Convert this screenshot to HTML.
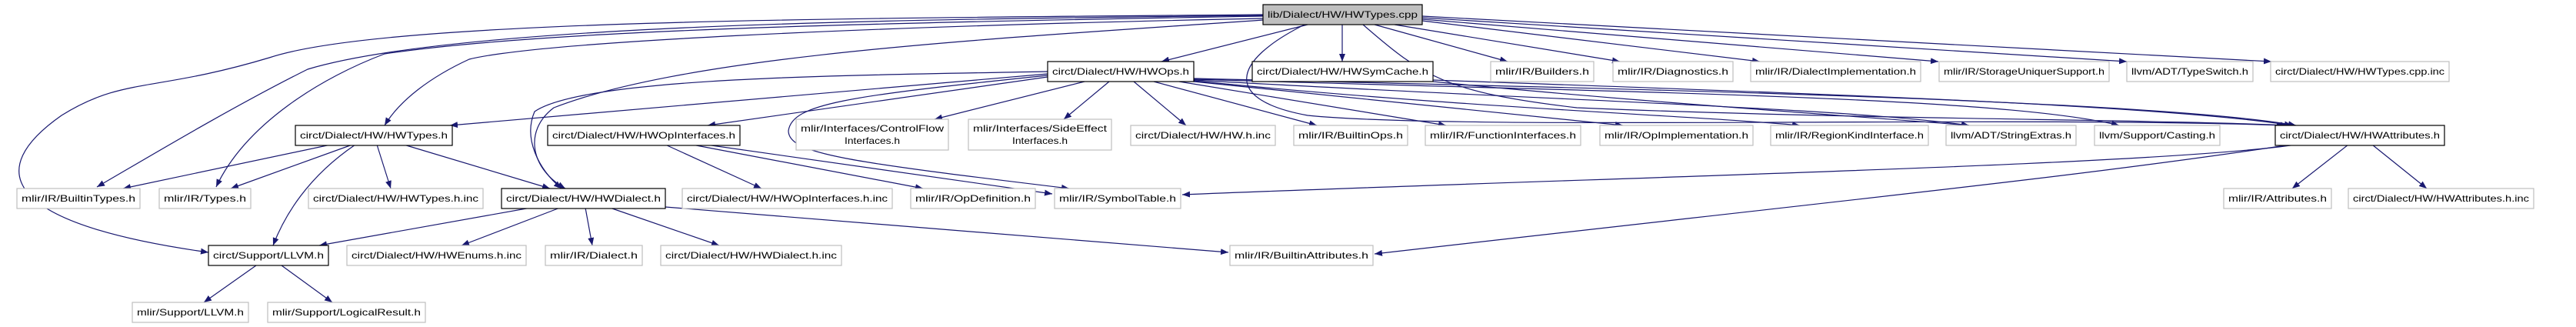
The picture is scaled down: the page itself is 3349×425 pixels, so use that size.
<!DOCTYPE html>
<html><head><meta charset="utf-8"><style>
html,body{margin:0;padding:0;background:#fff;}
svg{display:block}
text{font-family:"Liberation Sans",sans-serif;font-size:12px;fill:#000}
.n{fill:#fff;stroke:#bfbfbf;stroke-width:1.2}
.b{fill:#fff;stroke:#000;stroke-width:1.2}
.e{fill:none;stroke:#191970;stroke-width:1.2}
</style></head><body>
<svg width="3349" height="425" viewBox="0 0 3349 425" xmlns="http://www.w3.org/2000/svg">
<defs><marker id="a" viewBox="0 0 10 8" refX="10" refY="4" markerWidth="10" markerHeight="8" markerUnits="userSpaceOnUse" orient="auto"><path d="M0,0 L10,4 L0,8 z" fill="#191970"/></marker></defs>
<g class="e" marker-end="url(#a)">
<path d="M1700,32 L1510,80"/>
<path d="M1745,32 L1745,80"/>
<path d="M1787,32 L1960,80"/>
<path d="M1813,32 L2106,80"/>
<path d="M1849,27 L2288,80"/>
<path d="M1849,25 L2520,80"/>
<path d="M1849,23 L2765,80"/>
<path d="M1849,21 L2953,80"/>
<path d="M1772,32 C1850,100 1880,120 2050,140 C2400,155 2800,155 2975,163"/>
<path d="M1696,32 C1600,80 1590,130 1700,150 C1900,170 2600,150 2970,163"/>
<path d="M1642,24 C1100,35 700,55 610,77 C560,100 520,130 500,163"/>
<path d="M1642,21 C1100,30 700,40 500,70 C420,100 320,160 281,243"/>
<path d="M1642,20 C1200,25 600,30 400,90 C300,140 200,200 126,243"/>
<path d="M1642,19 C1100,24 500,25 350,75 C200,120 160,100 80,150 C-20,220 0,290 271,328"/>
<path d="M1642,26 C1300,50 900,70 720,140 C680,170 690,220 735,245"/>
<path d="M1362,96 L585,163"/>
<path d="M1362,100 L920,163"/>
<path d="M1362,93 C1100,98 760,100 695,145 C680,180 700,220 730,245"/>
<path d="M1410,106 L1215,155"/>
<path d="M1442,106 L1383,155"/>
<path d="M1474,106 L1542,163"/>
<path d="M1500,106 L1712,163"/>
<path d="M1533,106 L1880,163"/>
<path d="M1552,106 L2110,163"/>
<path d="M1552,105 C1900,140 2200,150 2340,163"/>
<path d="M1552,104 C2000,130 2400,140 2560,163"/>
<path d="M1552,103 C2100,120 2600,125 2755,163"/>
<path d="M1552,102 C2100,115 2800,130 2985,163"/>
<path d="M1362,98 C1100,125 1030,135 1025,170 C1025,200 1100,210 1390,245"/>
<path d="M1863,104 C2300,120 2800,135 2980,163"/>
<path d="M1863,106 C2100,130 2400,150 2560,163"/>
<path d="M430,188 L160,245"/>
<path d="M458,188 L300,245"/>
<path d="M490,188 L508,245"/>
<path d="M525,188 L715,245"/>
<path d="M462,188 C400,230 370,280 355,319"/>
<path d="M865,188 L990,245"/>
<path d="M900,188 L1200,245"/>
<path d="M918,188 L1368,252"/>
<path d="M690,270 L415,319"/>
<path d="M728,270 L600,319"/>
<path d="M761,270 L770,319"/>
<path d="M793,270 L935,319"/>
<path d="M865,269 L1597,328"/>
<path d="M333,345 L265,393"/>
<path d="M366,345 L432,393"/>
<path d="M3053,188 L2980,245"/>
<path d="M3084,188 L3155,245"/>
<path d="M2985,188 C2800,215 2100,230 1537,253"/>
<path d="M2978,188 C2700,230 2400,260 1787,330"/>
</g>
<rect x="1642" y="6" width="207" height="26" fill="#bfbfbf" stroke="#000" stroke-width="1.2"/><text x="1648" y="23" textLength="195" lengthAdjust="spacingAndGlyphs">lib/Dialect/HW/HWTypes.cpp</text>
<rect class="b" x="1362" y="80" width="190" height="26"/><text x="1368" y="97" textLength="178" lengthAdjust="spacingAndGlyphs">circt/Dialect/HW/HWOps.h</text>
<rect class="b" x="1628" y="80" width="235" height="26"/><text x="1634" y="97" textLength="223" lengthAdjust="spacingAndGlyphs">circt/Dialect/HW/HWSymCache.h</text>
<rect class="n" x="1938" y="80" width="134" height="26"/><text x="1944" y="97" textLength="122" lengthAdjust="spacingAndGlyphs">mlir/IR/Builders.h</text>
<rect class="n" x="2097" y="80" width="156" height="26"/><text x="2103" y="97" textLength="144" lengthAdjust="spacingAndGlyphs">mlir/IR/Diagnostics.h</text>
<rect class="n" x="2276" y="80" width="221" height="26"/><text x="2282" y="97" textLength="209" lengthAdjust="spacingAndGlyphs">mlir/IR/DialectImplementation.h</text>
<rect class="n" x="2521" y="80" width="221" height="26"/><text x="2527" y="97" textLength="209" lengthAdjust="spacingAndGlyphs">mlir/IR/StorageUniquerSupport.h</text>
<rect class="n" x="2765" y="80" width="164" height="26"/><text x="2771" y="97" textLength="152" lengthAdjust="spacingAndGlyphs">llvm/ADT/TypeSwitch.h</text>
<rect class="n" x="2952" y="80" width="232" height="26"/><text x="2958" y="97" textLength="220" lengthAdjust="spacingAndGlyphs">circt/Dialect/HW/HWTypes.cpp.inc</text>

<rect class="b" x="384" y="163" width="204" height="26"/><text x="390" y="180" textLength="192" lengthAdjust="spacingAndGlyphs">circt/Dialect/HW/HWTypes.h</text>
<rect class="b" x="712" y="163" width="250" height="26"/><text x="718" y="180" textLength="238" lengthAdjust="spacingAndGlyphs">circt/Dialect/HW/HWOpInterfaces.h</text>
<rect class="n" x="1035" y="155" width="198" height="40"/><text x="1041" y="171" textLength="186" lengthAdjust="spacingAndGlyphs">mlir/Interfaces/ControlFlow</text><text x="1098" y="187" textLength="72" lengthAdjust="spacingAndGlyphs">Interfaces.h</text>
<rect class="n" x="1259" y="155" width="186" height="40"/><text x="1265" y="171" textLength="174" lengthAdjust="spacingAndGlyphs">mlir/Interfaces/SideEffect</text><text x="1316" y="187" textLength="72" lengthAdjust="spacingAndGlyphs">Interfaces.h</text>
<rect class="n" x="1470" y="163" width="188" height="26"/><text x="1476" y="180" textLength="176" lengthAdjust="spacingAndGlyphs">circt/Dialect/HW/HW.h.inc</text>
<rect class="n" x="1682" y="163" width="148" height="26"/><text x="1688" y="180" textLength="136" lengthAdjust="spacingAndGlyphs">mlir/IR/BuiltinOps.h</text>
<rect class="n" x="1853" y="163" width="202" height="26"/><text x="1859" y="180" textLength="190" lengthAdjust="spacingAndGlyphs">mlir/IR/FunctionInterfaces.h</text>
<rect class="n" x="2080" y="163" width="199" height="26"/><text x="2086" y="180" textLength="187" lengthAdjust="spacingAndGlyphs">mlir/IR/OpImplementation.h</text>
<rect class="n" x="2302" y="163" width="205" height="26"/><text x="2308" y="180" textLength="193" lengthAdjust="spacingAndGlyphs">mlir/IR/RegionKindInterface.h</text>
<rect class="n" x="2530" y="163" width="169" height="26"/><text x="2536" y="180" textLength="157" lengthAdjust="spacingAndGlyphs">llvm/ADT/StringExtras.h</text>
<rect class="n" x="2723" y="163" width="163" height="26"/><text x="2729" y="180" textLength="151" lengthAdjust="spacingAndGlyphs">llvm/Support/Casting.h</text>
<rect class="b" x="2958" y="163" width="220" height="26"/><text x="2964" y="180" textLength="208" lengthAdjust="spacingAndGlyphs">circt/Dialect/HW/HWAttributes.h</text>

<rect class="n" x="22" y="245" width="160" height="26"/><text x="28" y="262" textLength="148" lengthAdjust="spacingAndGlyphs">mlir/IR/BuiltinTypes.h</text>
<rect class="n" x="207" y="245" width="119" height="26"/><text x="213" y="262" textLength="107" lengthAdjust="spacingAndGlyphs">mlir/IR/Types.h</text>
<rect class="n" x="401" y="245" width="227" height="26"/><text x="407" y="262" textLength="215" lengthAdjust="spacingAndGlyphs">circt/Dialect/HW/HWTypes.h.inc</text>
<rect class="b" x="652" y="245" width="213" height="26"/><text x="658" y="262" textLength="201" lengthAdjust="spacingAndGlyphs">circt/Dialect/HW/HWDialect.h</text>
<rect class="n" x="887" y="245" width="273" height="26"/><text x="893" y="262" textLength="261" lengthAdjust="spacingAndGlyphs">circt/Dialect/HW/HWOpInterfaces.h.inc</text>
<rect class="n" x="1184" y="245" width="162" height="26"/><text x="1190" y="262" textLength="150" lengthAdjust="spacingAndGlyphs">mlir/IR/OpDefinition.h</text>
<rect class="n" x="1371" y="245" width="164" height="26"/><text x="1377" y="262" textLength="152" lengthAdjust="spacingAndGlyphs">mlir/IR/SymbolTable.h</text>
<rect class="n" x="2891" y="245" width="140" height="26"/><text x="2897" y="262" textLength="128" lengthAdjust="spacingAndGlyphs">mlir/IR/Attributes.h</text>
<rect class="n" x="3053" y="245" width="241" height="26"/><text x="3059" y="262" textLength="229" lengthAdjust="spacingAndGlyphs">circt/Dialect/HW/HWAttributes.h.inc</text>

<rect class="b" x="271" y="319" width="156" height="26"/><text x="277" y="336" textLength="144" lengthAdjust="spacingAndGlyphs">circt/Support/LLVM.h</text>
<rect class="n" x="451" y="319" width="233" height="26"/><text x="457" y="336" textLength="221" lengthAdjust="spacingAndGlyphs">circt/Dialect/HW/HWEnums.h.inc</text>
<rect class="n" x="709" y="319" width="126" height="26"/><text x="715" y="336" textLength="114" lengthAdjust="spacingAndGlyphs">mlir/IR/Dialect.h</text>
<rect class="n" x="859" y="319" width="235" height="26"/><text x="865" y="336" textLength="223" lengthAdjust="spacingAndGlyphs">circt/Dialect/HW/HWDialect.h.inc</text>
<rect class="n" x="1599" y="319" width="186" height="26"/><text x="1605" y="336" textLength="174" lengthAdjust="spacingAndGlyphs">mlir/IR/BuiltinAttributes.h</text>

<rect class="n" x="172" y="393" width="151" height="26"/><text x="178" y="410" textLength="139" lengthAdjust="spacingAndGlyphs">mlir/Support/LLVM.h</text>
<rect class="n" x="348" y="393" width="205" height="26"/><text x="354" y="410" textLength="193" lengthAdjust="spacingAndGlyphs">mlir/Support/LogicalResult.h</text>
</svg>
</body></html>
